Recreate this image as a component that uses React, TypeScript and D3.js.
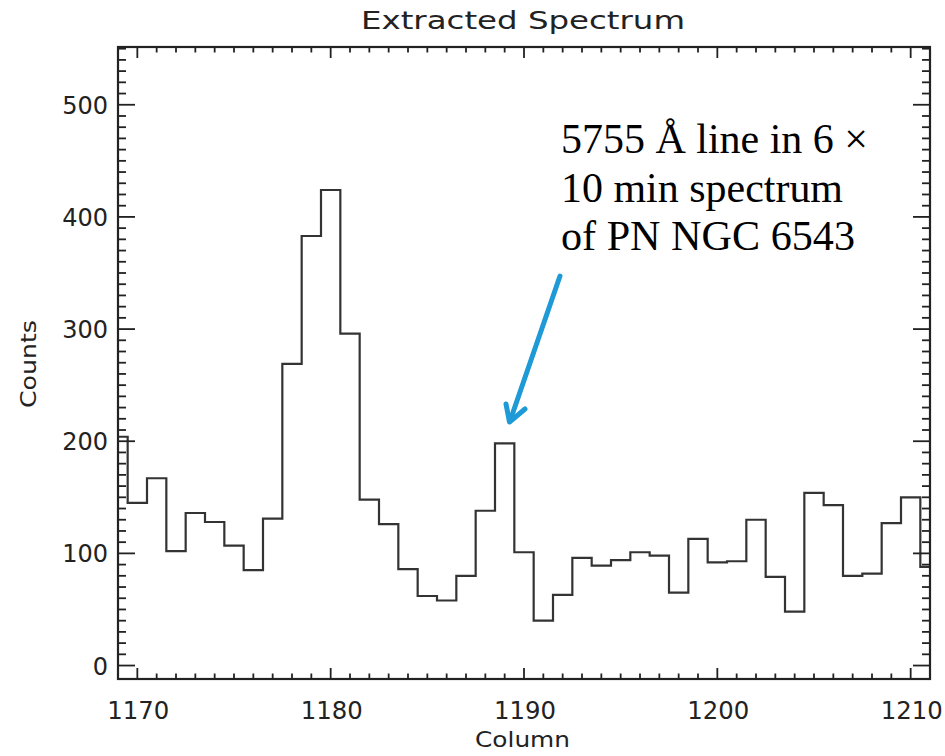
import React from "react";
import * as d3 from "d3";

const columns: number[] = [
  1169, 1170, 1171, 1172, 1173, 1174, 1175, 1176, 1177, 1178, 1179, 1180, 1181, 1182, 1183,
  1184, 1185, 1186, 1187, 1188, 1189, 1190, 1191, 1192, 1193, 1194, 1195, 1196, 1197, 1198,
  1199, 1200, 1201, 1202, 1203, 1204, 1205, 1206, 1207, 1208, 1209, 1210, 1211,
];
const counts: number[] = [
  204, 145, 167, 102, 136, 128, 107, 85, 131, 269, 383, 424, 296, 148, 126,
  86, 62, 58, 80, 138, 198, 101, 40, 63, 96, 89, 94, 101, 98, 65,
  113, 92, 93, 130, 79, 48, 154, 143, 80, 82, 127, 150, 88,
];
const xTickLabels: number[] = [1170, 1180, 1190, 1200, 1210];
const yTickLabels: number[] = [0, 100, 200, 300, 400, 500];
const annotationLines: string[] = ["5755 Å line in 6 ×", "10 min spectrum", "of PN NGC 6543"];
const annotationWidths: number[] = [307, 282, 294];

const W = 945;
const H = 756;
const L = 118, R = 930, T = 47, B = 679;

export default function App() {
  const x = d3.scaleLinear().domain([1169, 1211]).range([L, R]);
  const y = d3.scaleLinear().domain([-12, 551.5]).range([B, T]);

  const pts: [number, number][] = columns.map((c, i) => [x(c), y(counts[i])]);
  const line = d3.line().curve(d3.curveStep);
  const path = line(pts) || "";

  const xMinor = d3.range(1170, 1211, 1);
  const yMinor = d3.range(0, 551, 10);
  const ink = "#222";
  const sans = "'DejaVu Sans', sans-serif";

  return (
    <svg
      width={W}
      height={H}
      style={{ position: "absolute", left: 0, top: 0, background: "#fff" }}
    >
      <rect x={0} y={0} width={W} height={H} fill="#fff" />
      {/* histogram */}
      <path d={path} fill="none" stroke="#333" strokeWidth={2.2} />
      {/* x ticks bottom & top */}
      {xMinor.map((v) => {
        const major = v % 10 === 0;
        const len = major ? 11 : 5.5;
        return (
          <g key={"xt" + v} stroke={ink} strokeWidth={1.8}>
            <line x1={x(v)} x2={x(v)} y1={B} y2={B - len} />
            <line x1={x(v)} x2={x(v)} y1={T} y2={T + len} />
          </g>
        );
      })}
      {/* y ticks left & right */}
      {yMinor.map((v) => {
        const major = v % 100 === 0;
        const len = major ? 17 : 8;
        return (
          <g key={"yt" + v} stroke={ink} strokeWidth={1.8}>
            <line x1={L} x2={L + len} y1={y(v)} y2={y(v)} />
            <line x1={R} x2={R - len} y1={y(v)} y2={y(v)} />
          </g>
        );
      })}
      {/* frame */}
      <rect x={L} y={T} width={R - L} height={B - T} fill="none" stroke={ink} strokeWidth={2.2} />
      {/* tick labels */}
      {xTickLabels.map((v) => (
        <text
          key={"xl" + v}
          x={x(v) + 1}
          y={719}
          textAnchor="middle"
          fontFamily={sans}
          fontSize={24}
          fill={ink}
          textLength={62}
          lengthAdjust="spacingAndGlyphs"
        >
          {v}
        </text>
      ))}
      {yTickLabels.map((v) => (
        <text
          key={"yl" + v}
          x={108}
          y={y(v) + 9}
          textAnchor="end"
          fontFamily={sans}
          fontSize={24}
          fill={ink}
        >
          {v}
        </text>
      ))}
      {/* title and axis labels */}
      <text
        x={523}
        y={29}
        textAnchor="middle"
        fontFamily={sans}
        fontSize={25}
        fill={ink}
        textLength={324}
        lengthAdjust="spacingAndGlyphs"
      >
        Extracted Spectrum
      </text>
      <text
        x={522.5}
        y={747}
        textAnchor="middle"
        fontFamily={sans}
        fontSize={22}
        fill={ink}
        textLength={95}
        lengthAdjust="spacingAndGlyphs"
      >
        Column
      </text>
      <text
        transform={`translate(36,364) rotate(-90)`}
        textAnchor="middle"
        fontFamily={sans}
        fontSize={22}
        fill={ink}
        textLength={88}
        lengthAdjust="spacingAndGlyphs"
      >
        Counts
      </text>
      {/* annotation */}
      {annotationLines.map((t, i) => (
        <text
          key={"an" + i}
          x={561}
          y={153 + i * 48.7}
          fontFamily="'Liberation Serif', 'Times New Roman', serif"
          fontSize={41.5}
          fill="#000"
          textLength={annotationWidths[i]}
          lengthAdjust="spacingAndGlyphs"
        >
          {t}
        </text>
      ))}
      {/* arrow */}
      <g stroke="#1e9ad6" strokeWidth={5} strokeLinecap="round" strokeLinejoin="round" fill="none">
        <line x1={560} y1={276} x2={510} y2={421} />
        <polyline points="506,404 509.5,422 525,409" />
      </g>
    </svg>
  );
}
